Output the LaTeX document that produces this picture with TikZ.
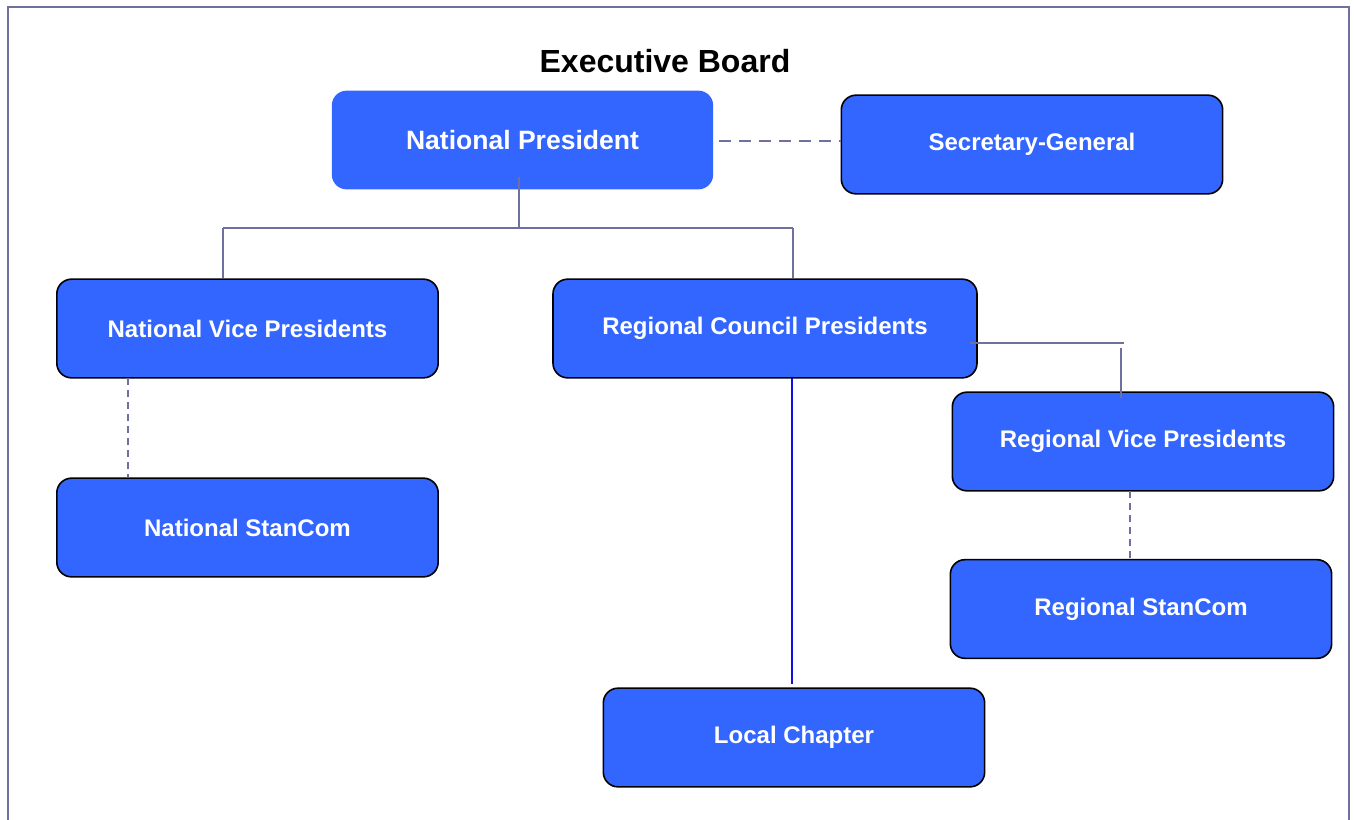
\documentclass[tikz,border=0pt]{standalone}
\usepackage{fontspec}
\setmainfont{Liberation Sans}
\usetikzlibrary{calc}
\definecolor{boxblue}{HTML}{3366FF}
\definecolor{linec}{HTML}{7070A0}
\definecolor{chainblue}{HTML}{1010E0}
\tikzset{
  orgbox/.style={rectangle, rounded corners=11pt, fill=boxblue, draw=black, line width=1.2pt,
    minimum width=286pt, minimum height=74pt, inner sep=0pt,
    text=white, font=\bfseries\fontsize{18}{21}\selectfont},
  topbox/.style={orgbox, draw=none, font=\bfseries\fontsize{19.9}{23}\selectfont},
  conn/.style={draw=linec, line width=1.5pt},
  dashh/.style={conn, dash pattern=on 9pt off 6pt},
  dashv/.style={conn, line width=1.4pt, dash pattern=on 5pt off 4pt},
  chain/.style={draw=chainblue, line width=1.5pt}
}
\begin{document}
\begin{tikzpicture}[x=0.75pt,y=-0.75pt]
\useasboundingbox (0,0) rectangle (1354,819);
% frame
\draw[draw=linec, line width=1.5pt] (8,830) -- (8,7) -- (1349,7) -- (1349,830);
% title
\node[font=\bfseries\fontsize{24}{28}\selectfont] (title) at (665,61) {Executive Board};
% boxes
\node[topbox] (np) at (522.5,140) {National President};
\node[orgbox] (sg) at (1032,144.5) {Secretary-General};
\node[orgbox] (nvp) at (247.5,328.5) {National Vice Presidents};
\node[orgbox, minimum width=318pt] (rcp) at (765,328.5) {Regional Council Presidents};
\node[orgbox] (rvp) at (1143,441.5) {Regional Vice Presidents};
\node[orgbox] (nsc) at (247.5,527.5) {National StanCom};
\node[orgbox] (rsc) at (1141,609) {Regional StanCom};
\node[orgbox] (lc) at (794,737.5) {Local Chapter};
% connectors
\coordinate (npdrop) at (519,177);
\coordinate (bar) at (519,228);
\coordinate (barL) at (223,228);
\coordinate (barR) at (793,228);
\draw[conn] (npdrop) -- (bar);
\draw[conn] (barL) -- (barR);
\draw[conn] (barL) -- (barL |- nvp.north);
\draw[conn] (barR) -- (barR |- rcp.north);
\coordinate (sgl) at (719,141);
\draw[dashh] (sgl) -- (sgl -| sg.west);
\coordinate (rcpa) at (970,343);
\coordinate (rcpb) at (1124,343);
\draw[conn] (rcpa) -- (rcpb);
\coordinate (rvpa) at (1121,348);
\coordinate (rvpb) at (1121,398);
\draw[conn] (rvpa) -- (rvpb);
\coordinate (nvpd) at (128,378);
\draw[dashv] (nvpd) -- (nvpd |- nsc.north);
\coordinate (rvpd) at (1130,491);
\draw[dashv] (rvpd) -- (rvpd |- rsc.north);
\coordinate (lca) at (792,378);
\coordinate (lcb) at (792,684);
\draw[chain] (lca) -- (lcb);
\end{tikzpicture}
\end{document}
